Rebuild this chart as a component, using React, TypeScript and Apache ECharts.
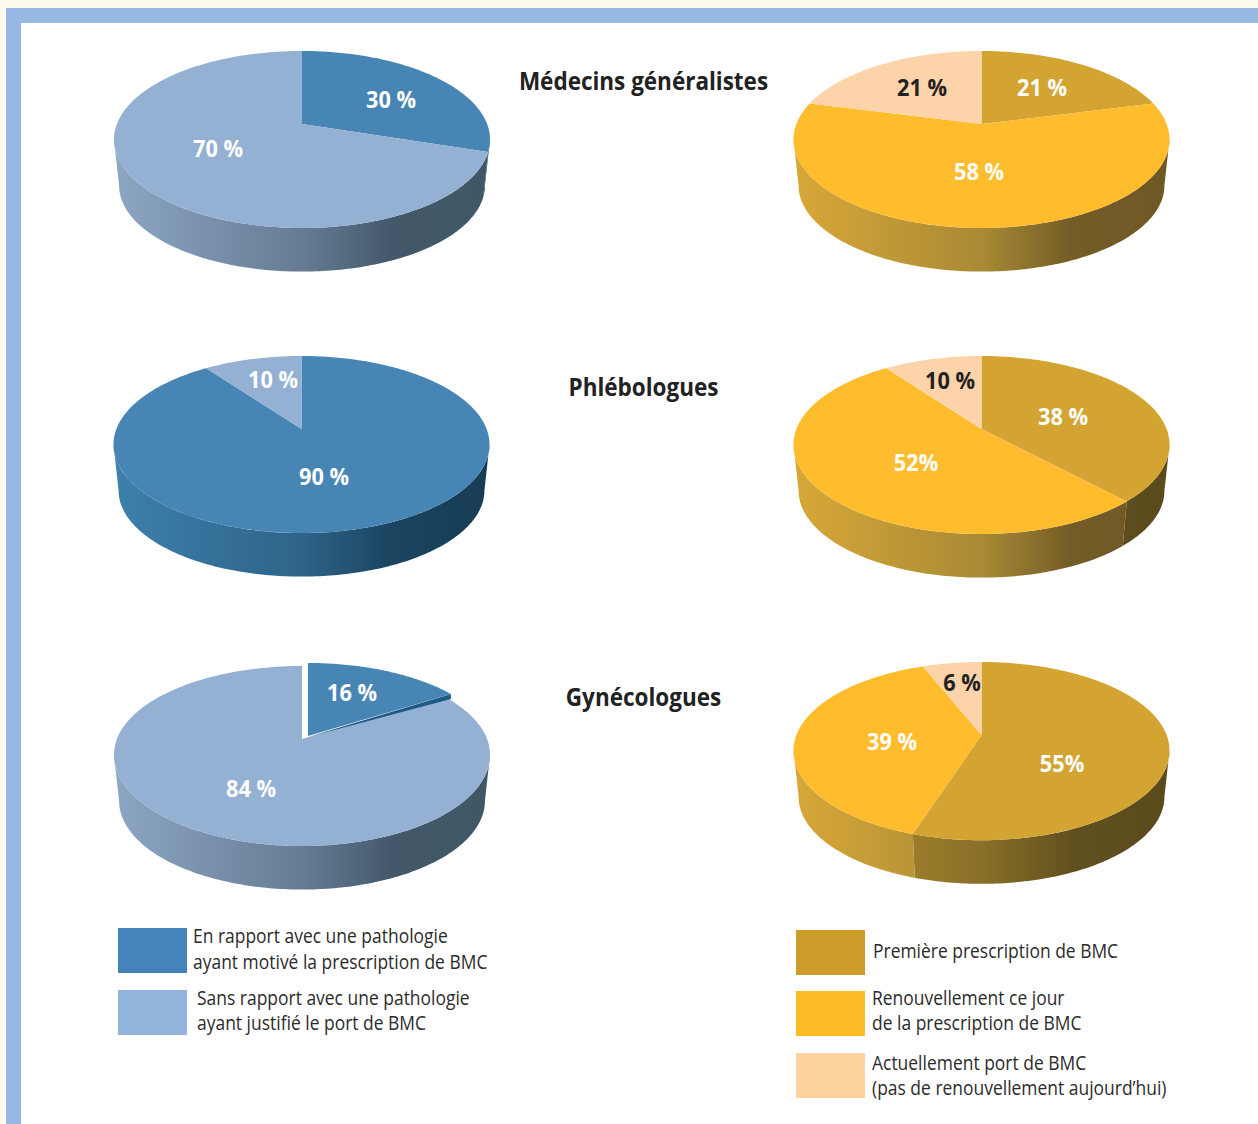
import React, { useEffect, useRef } from "react";
import * as echarts from "echarts";

const categories = ["Médecins généralistes", "Phlébologues", "Gynécologues"];

const enRapport = [30, 90, 16];
const sansRapport = [70, 10, 84];
const premiere = [21, 38, 55];
const renouvellement = [58, 52, 39];
const actuellement = [21, 10, 6];

const leftLabels = [["30 %", "70 %"], ["90 %", "10 %"], ["16 %", "84 %"]];
const rightLabels = [["21 %", "58 %", "21 %"], ["38 %", "52%", "10 %"], ["55%", "39 %", "6 %"]];

const leftLegend = [
  ["En rapport avec une pathologie", "ayant motivé la prescription de BMC"],
  ["Sans rapport avec une pathologie", "ayant justifié le port de BMC"],
];
const rightLegend = [
  ["Première prescription de BMC"],
  ["Renouvellement ce jour", "de la prescription de BMC"],
  ["Actuellement port de BMC", "(pas de renouvellement aujourd’hui)"],
];

const FONT = '"Open Sans"';
const MID = "#4785B5", LIGHT = "#94B1D3", GOLD = "#D4A433", YELLOW = "#FFBC2C", PEACH = "#FDD3A9";

const sideStops: Record<string, string[]> = {
  [MID]: ["#3D80AC", "#2E6488", "#1A4460", "#173C56"],
  [LIGHT]: ["#8CA6C3", "#667C94", "#43596A", "#405866"],
  [GOLD]: ["#B89030", "#8A7028", "#61501F", "#5A4A1C"],
  [YELLOW]: ["#D8A838", "#A98A35", "#735C26", "#6E5825"],
  [PEACH]: ["#D8B48C", "#A88C6C", "#786450", "#706048"],
};

const RX = 188, RY = 88.5, K = -0.175, A = 185.1, B = 85.8, TOP_TO_APEX = 73, DEPTH = 46, SHRINK = 0.973;
const THETA_R = Math.acos(K);

function topPoint(cx: number, apexY: number, t: number, stretch: number) {
  const u = Math.sin(t), v = -Math.cos(t), d = 1 + K * v;
  return [cx + (A * u) / d, apexY + ((B * v) / d) * (v > 0 ? stretch : 1)];
}
function basePoint(cx: number, apexY: number, t: number, stretch: number) {
  const p = topPoint(cx, apexY, t, stretch);
  const cy = apexY - TOP_TO_APEX + RY;
  return [cx + (p[0] - cx) * SHRINK, cy + DEPTH + (p[1] - cy) * SHRINK];
}
function arc(f: (t: number) => number[], a: number, b: number) {
  const n = Math.max(2, Math.ceil(Math.abs(b - a) * 60));
  const pts: number[][] = [];
  for (let i = 0; i <= n; i++) pts.push(f(a + ((b - a) * i) / n));
  return pts;
}

type Pie = {
  cx: number; top: number; stretch: number; colors: string[]; labels: string[];
  labelPos: number[][]; labelFill: string[]; explode?: boolean;
};

const leftPies: Pie[] = [
  { cx: 302, top: 51, stretch: 1, colors: [MID, LIGHT], labels: leftLabels[0], labelPos: [[391, 99], [218, 148]], labelFill: ["#fff", "#fff"] },
  { cx: 301.5, top: 356, stretch: 1, colors: [MID, LIGHT], labels: leftLabels[1], labelPos: [[324, 476], [273, 379]], labelFill: ["#fff", "#fff"] },
  { cx: 302, top: 666, stretch: 1.029, colors: [MID, LIGHT], labels: leftLabels[2], labelPos: [[352, 692], [251, 788]], labelFill: ["#fff", "#fff"], explode: true },
];
const rightPies: Pie[] = [
  { cx: 981.5, top: 51, stretch: 1, colors: [GOLD, YELLOW, PEACH], labels: rightLabels[0], labelPos: [[1042, 87], [979, 171], [922, 87]], labelFill: ["#fff", "#fff", "#222"] },
  { cx: 981.5, top: 356, stretch: 1.01, colors: [GOLD, YELLOW, PEACH], labels: rightLabels[1], labelPos: [[1063, 416], [916, 462], [950, 380]], labelFill: ["#fff", "#fff", "#222"] },
  { cx: 981.5, top: 662, stretch: 1.012, colors: [GOLD, YELLOW, PEACH], labels: rightLabels[2], labelPos: [[1062, 763], [892, 741], [962, 682]], labelFill: ["#fff", "#fff", "#222"] },
];

function makeRenderItem(pies: Pie[], count: number) {
  return (params: any, api: any) => {
    const pie = pies[params.dataIndex];
    const apexY = pie.top + TOP_TO_APEX;
    const { cx, stretch } = pie;
    const values: number[] = [];
    for (let i = 0; i < count; i++) values.push(api.value(i));
    const total = values.reduce((s, v) => s + v, 0);
    const sides: any[] = [];
    const tops: any[] = [];
    const raised: any[] = [];
    const texts: any[] = [];
    let start = 0;
    values.forEach((v, i) => {
      const end = start + (v / total) * Math.PI * 2;
      const color = pie.colors[i];
      const exploded = pie.explode && i === 0;
      const dx = exploded ? 6 : 0, dy = exploded ? -3 : 0;
      const a = Math.max(start, THETA_R), b = Math.min(end, Math.PI * 2 - THETA_R);
      if (b > a) {
        const upper = arc((t) => topPoint(cx, apexY, t, stretch), a, b);
        const lower = arc((t) => basePoint(cx, apexY, t, stretch), b, a);
        const s = sideStops[color];
        sides.push({
          type: "polygon",
          shape: { points: upper.concat(lower) },
          style: {
            fill: new echarts.graphic.LinearGradient(cx - RX, 0, cx + RX, 0, [
              { offset: 0, color: s[0] },
              { offset: 0.5, color: s[1] },
              { offset: 0.74, color: s[2] },
              { offset: 1, color: s[3] },
            ], true),
          },
        });
      }
      const outer = arc((t) => topPoint(cx, apexY, t, stretch), start, end);
      const moved = [[cx, apexY]].concat(outer).map((p) => [p[0] + dx, p[1] + dy]);
      const target = exploded ? raised : tops;
      if (exploded) {
        const tip = moved[moved.length - 1];
        target.push({
          type: "polygon",
          shape: { points: [[moved[0][0], moved[0][1] + 1], tip, [tip[0], tip[1] + 5]] },
          style: { fill: "#1F5A85" },
        });
      }
      target.push({ type: "polygon", shape: { points: moved }, style: { fill: color } });
      texts.push({
        type: "text",
        x: pie.labelPos[i][0],
        y: pie.labelPos[i][1],
        scaleX: 0.905,
        style: {
          text: pie.labels[i],
          fill: pie.labelFill[i],
          font: `bold 24px ${FONT}`,
          align: "center",
          verticalAlign: "middle",
        },
      });
      start = end;
    });
    return { type: "group", children: sides.concat(tops, raised, texts) };
  };
}

function legendText(text: string, x: number, y: number) {
  return {
    type: "text", x, y, scaleX: 0.873,
    style: { text, fill: "#2B2B2B", font: `20px ${FONT}`, align: "left", verticalAlign: "middle" },
  };
}

export default function App() {
  const ref = useRef<HTMLDivElement>(null);
  useEffect(() => {
    const chart = echarts.init(ref.current!, null, { renderer: "svg" });
    const titleY = [81, 387, 697];
    const graphics: any[] = [
      { type: "rect", shape: { x: 6, y: 8, width: 1252, height: 1116 }, style: { fill: "#97B8E2" } },
      { type: "rect", shape: { x: 21, y: 23, width: 1237, height: 1101 }, style: { fill: "#FFFFFF" } },
      ...categories.map((c, i) => ({
        type: "text", x: 643.5, y: titleY[i], scaleX: 0.9,
        style: { text: c, fill: "#222", font: `bold 25px ${FONT}`, align: "center", verticalAlign: "middle" },
      })),
      { type: "rect", shape: { x: 118, y: 928, width: 69, height: 45 }, style: { fill: "#4583BC" } },
      { type: "rect", shape: { x: 118, y: 990, width: 69, height: 45 }, style: { fill: "#92B4DA" } },
      legendText(leftLegend[0][0], 193, 935),
      legendText(leftLegend[0][1], 193, 961),
      legendText(leftLegend[1][0], 197, 997),
      legendText(leftLegend[1][1], 197, 1022),
      { type: "rect", shape: { x: 796, y: 930, width: 69, height: 45 }, style: { fill: "#CC9D2B" } },
      { type: "rect", shape: { x: 796, y: 991, width: 69, height: 45 }, style: { fill: "#FBBC25" } },
      { type: "rect", shape: { x: 796, y: 1053, width: 69, height: 45 }, style: { fill: "#FDD49F" } },
      legendText(rightLegend[0][0], 873, 950),
      legendText(rightLegend[1][0], 872, 997),
      legendText(rightLegend[1][1], 872, 1022),
      legendText(rightLegend[2][0], 872, 1062),
      legendText(rightLegend[2][1], 872, 1087),
    ];
    chart.setOption({
      animation: false,
      backgroundColor: "#FDFBEF",
      graphic: graphics,
      series: [
        {
          type: "custom",
          name: "Rapport avec une pathologie",
          coordinateSystem: "none",
          renderItem: makeRenderItem(leftPies, 2),
          data: categories.map((_, i) => [enRapport[i], sansRapport[i]]),
          silent: true,
        },
        {
          type: "custom",
          name: "Prescription de BMC",
          coordinateSystem: "none",
          renderItem: makeRenderItem(rightPies, 3),
          data: categories.map((_, i) => [premiere[i], renouvellement[i], actuellement[i]]),
          silent: true,
        },
      ],
    });
    return () => chart.dispose();
  }, []);
  return <div ref={ref} style={{ position: "absolute", left: 0, top: 0, width: 1258, height: 1124 }} />;
}
